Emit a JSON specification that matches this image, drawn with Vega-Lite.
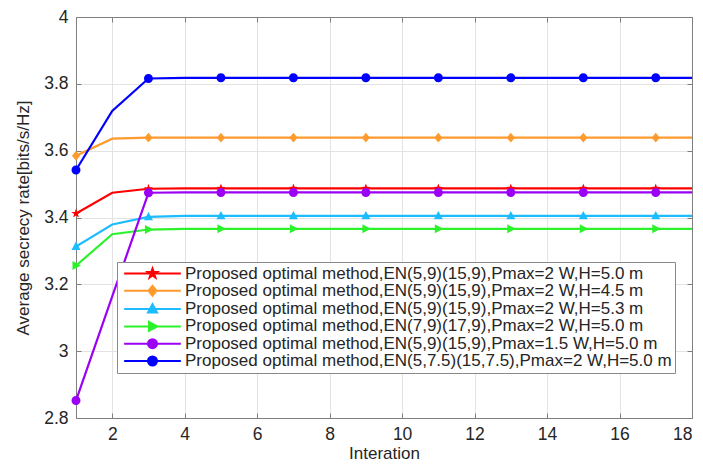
{
  "$schema": "https://vega.github.io/schema/vega-lite/v6.json",
  "width": 616,
  "height": 401,
  "autosize": "none",
  "padding": {"left": 76, "top": 17, "right": 11, "bottom": 47},
  "background": "white",
  "config": {
    "font": "Liberation Sans",
    "view": {"stroke": null},
    "axis": {
      "labelFont": "Liberation Sans",
      "titleFont": "Liberation Sans",
      "labelColor": "#262626",
      "titleColor": "#262626",
      "domainColor": "#7f7f7f",
      "tickColor": "#7f7f7f",
      "gridColor": "#e3e3e3",
      "labelFontSize": 17.5,
      "titleFontSize": 17.5,
      "titleFontWeight": "normal"
    }
  },
  "data": {"values": [
    {"s":"Proposed optimal method,EN(5,9)(15,9),Pmax=2 W,H=5.0 m","x":1,"y":3.412},
    {"s":"Proposed optimal method,EN(5,9)(15,9),Pmax=2 W,H=5.0 m","x":2,"y":3.474},
    {"s":"Proposed optimal method,EN(5,9)(15,9),Pmax=2 W,H=5.0 m","x":3,"y":3.486},
    {"s":"Proposed optimal method,EN(5,9)(15,9),Pmax=2 W,H=5.0 m","x":4,"y":3.487},
    {"s":"Proposed optimal method,EN(5,9)(15,9),Pmax=2 W,H=5.0 m","x":5,"y":3.487},
    {"s":"Proposed optimal method,EN(5,9)(15,9),Pmax=2 W,H=5.0 m","x":6,"y":3.487},
    {"s":"Proposed optimal method,EN(5,9)(15,9),Pmax=2 W,H=5.0 m","x":7,"y":3.487},
    {"s":"Proposed optimal method,EN(5,9)(15,9),Pmax=2 W,H=5.0 m","x":8,"y":3.487},
    {"s":"Proposed optimal method,EN(5,9)(15,9),Pmax=2 W,H=5.0 m","x":9,"y":3.487},
    {"s":"Proposed optimal method,EN(5,9)(15,9),Pmax=2 W,H=5.0 m","x":10,"y":3.487},
    {"s":"Proposed optimal method,EN(5,9)(15,9),Pmax=2 W,H=5.0 m","x":11,"y":3.487},
    {"s":"Proposed optimal method,EN(5,9)(15,9),Pmax=2 W,H=5.0 m","x":12,"y":3.487},
    {"s":"Proposed optimal method,EN(5,9)(15,9),Pmax=2 W,H=5.0 m","x":13,"y":3.487},
    {"s":"Proposed optimal method,EN(5,9)(15,9),Pmax=2 W,H=5.0 m","x":14,"y":3.487},
    {"s":"Proposed optimal method,EN(5,9)(15,9),Pmax=2 W,H=5.0 m","x":15,"y":3.487},
    {"s":"Proposed optimal method,EN(5,9)(15,9),Pmax=2 W,H=5.0 m","x":16,"y":3.487},
    {"s":"Proposed optimal method,EN(5,9)(15,9),Pmax=2 W,H=5.0 m","x":17,"y":3.487},
    {"s":"Proposed optimal method,EN(5,9)(15,9),Pmax=2 W,H=5.0 m","x":18,"y":3.487},
    {"s":"Proposed optimal method,EN(5,9)(15,9),Pmax=2 W,H=4.5 m","x":1,"y":3.585},
    {"s":"Proposed optimal method,EN(5,9)(15,9),Pmax=2 W,H=4.5 m","x":2,"y":3.636},
    {"s":"Proposed optimal method,EN(5,9)(15,9),Pmax=2 W,H=4.5 m","x":3,"y":3.639},
    {"s":"Proposed optimal method,EN(5,9)(15,9),Pmax=2 W,H=4.5 m","x":4,"y":3.639},
    {"s":"Proposed optimal method,EN(5,9)(15,9),Pmax=2 W,H=4.5 m","x":5,"y":3.639},
    {"s":"Proposed optimal method,EN(5,9)(15,9),Pmax=2 W,H=4.5 m","x":6,"y":3.639},
    {"s":"Proposed optimal method,EN(5,9)(15,9),Pmax=2 W,H=4.5 m","x":7,"y":3.639},
    {"s":"Proposed optimal method,EN(5,9)(15,9),Pmax=2 W,H=4.5 m","x":8,"y":3.639},
    {"s":"Proposed optimal method,EN(5,9)(15,9),Pmax=2 W,H=4.5 m","x":9,"y":3.639},
    {"s":"Proposed optimal method,EN(5,9)(15,9),Pmax=2 W,H=4.5 m","x":10,"y":3.639},
    {"s":"Proposed optimal method,EN(5,9)(15,9),Pmax=2 W,H=4.5 m","x":11,"y":3.639},
    {"s":"Proposed optimal method,EN(5,9)(15,9),Pmax=2 W,H=4.5 m","x":12,"y":3.639},
    {"s":"Proposed optimal method,EN(5,9)(15,9),Pmax=2 W,H=4.5 m","x":13,"y":3.639},
    {"s":"Proposed optimal method,EN(5,9)(15,9),Pmax=2 W,H=4.5 m","x":14,"y":3.639},
    {"s":"Proposed optimal method,EN(5,9)(15,9),Pmax=2 W,H=4.5 m","x":15,"y":3.639},
    {"s":"Proposed optimal method,EN(5,9)(15,9),Pmax=2 W,H=4.5 m","x":16,"y":3.639},
    {"s":"Proposed optimal method,EN(5,9)(15,9),Pmax=2 W,H=4.5 m","x":17,"y":3.639},
    {"s":"Proposed optimal method,EN(5,9)(15,9),Pmax=2 W,H=4.5 m","x":18,"y":3.639},
    {"s":"Proposed optimal method,EN(5,9)(15,9),Pmax=2 W,H=5.3 m","x":1,"y":3.313},
    {"s":"Proposed optimal method,EN(5,9)(15,9),Pmax=2 W,H=5.3 m","x":2,"y":3.379},
    {"s":"Proposed optimal method,EN(5,9)(15,9),Pmax=2 W,H=5.3 m","x":3,"y":3.402},
    {"s":"Proposed optimal method,EN(5,9)(15,9),Pmax=2 W,H=5.3 m","x":4,"y":3.405},
    {"s":"Proposed optimal method,EN(5,9)(15,9),Pmax=2 W,H=5.3 m","x":5,"y":3.405},
    {"s":"Proposed optimal method,EN(5,9)(15,9),Pmax=2 W,H=5.3 m","x":6,"y":3.405},
    {"s":"Proposed optimal method,EN(5,9)(15,9),Pmax=2 W,H=5.3 m","x":7,"y":3.405},
    {"s":"Proposed optimal method,EN(5,9)(15,9),Pmax=2 W,H=5.3 m","x":8,"y":3.405},
    {"s":"Proposed optimal method,EN(5,9)(15,9),Pmax=2 W,H=5.3 m","x":9,"y":3.405},
    {"s":"Proposed optimal method,EN(5,9)(15,9),Pmax=2 W,H=5.3 m","x":10,"y":3.405},
    {"s":"Proposed optimal method,EN(5,9)(15,9),Pmax=2 W,H=5.3 m","x":11,"y":3.405},
    {"s":"Proposed optimal method,EN(5,9)(15,9),Pmax=2 W,H=5.3 m","x":12,"y":3.405},
    {"s":"Proposed optimal method,EN(5,9)(15,9),Pmax=2 W,H=5.3 m","x":13,"y":3.405},
    {"s":"Proposed optimal method,EN(5,9)(15,9),Pmax=2 W,H=5.3 m","x":14,"y":3.405},
    {"s":"Proposed optimal method,EN(5,9)(15,9),Pmax=2 W,H=5.3 m","x":15,"y":3.405},
    {"s":"Proposed optimal method,EN(5,9)(15,9),Pmax=2 W,H=5.3 m","x":16,"y":3.405},
    {"s":"Proposed optimal method,EN(5,9)(15,9),Pmax=2 W,H=5.3 m","x":17,"y":3.405},
    {"s":"Proposed optimal method,EN(5,9)(15,9),Pmax=2 W,H=5.3 m","x":18,"y":3.405},
    {"s":"Proposed optimal method,EN(7,9)(17,9),Pmax=2 W,H=5.0 m","x":1,"y":3.256},
    {"s":"Proposed optimal method,EN(7,9)(17,9),Pmax=2 W,H=5.0 m","x":2,"y":3.350},
    {"s":"Proposed optimal method,EN(7,9)(17,9),Pmax=2 W,H=5.0 m","x":3,"y":3.364},
    {"s":"Proposed optimal method,EN(7,9)(17,9),Pmax=2 W,H=5.0 m","x":4,"y":3.366},
    {"s":"Proposed optimal method,EN(7,9)(17,9),Pmax=2 W,H=5.0 m","x":5,"y":3.366},
    {"s":"Proposed optimal method,EN(7,9)(17,9),Pmax=2 W,H=5.0 m","x":6,"y":3.366},
    {"s":"Proposed optimal method,EN(7,9)(17,9),Pmax=2 W,H=5.0 m","x":7,"y":3.366},
    {"s":"Proposed optimal method,EN(7,9)(17,9),Pmax=2 W,H=5.0 m","x":8,"y":3.366},
    {"s":"Proposed optimal method,EN(7,9)(17,9),Pmax=2 W,H=5.0 m","x":9,"y":3.366},
    {"s":"Proposed optimal method,EN(7,9)(17,9),Pmax=2 W,H=5.0 m","x":10,"y":3.366},
    {"s":"Proposed optimal method,EN(7,9)(17,9),Pmax=2 W,H=5.0 m","x":11,"y":3.366},
    {"s":"Proposed optimal method,EN(7,9)(17,9),Pmax=2 W,H=5.0 m","x":12,"y":3.366},
    {"s":"Proposed optimal method,EN(7,9)(17,9),Pmax=2 W,H=5.0 m","x":13,"y":3.366},
    {"s":"Proposed optimal method,EN(7,9)(17,9),Pmax=2 W,H=5.0 m","x":14,"y":3.366},
    {"s":"Proposed optimal method,EN(7,9)(17,9),Pmax=2 W,H=5.0 m","x":15,"y":3.366},
    {"s":"Proposed optimal method,EN(7,9)(17,9),Pmax=2 W,H=5.0 m","x":16,"y":3.366},
    {"s":"Proposed optimal method,EN(7,9)(17,9),Pmax=2 W,H=5.0 m","x":17,"y":3.366},
    {"s":"Proposed optimal method,EN(7,9)(17,9),Pmax=2 W,H=5.0 m","x":18,"y":3.366},
    {"s":"Proposed optimal method,EN(5,9)(15,9),Pmax=1.5 W,H=5.0 m","x":1,"y":2.852},
    {"s":"Proposed optimal method,EN(5,9)(15,9),Pmax=1.5 W,H=5.0 m","x":2,"y":3.164},
    {"s":"Proposed optimal method,EN(5,9)(15,9),Pmax=1.5 W,H=5.0 m","x":3,"y":3.474},
    {"s":"Proposed optimal method,EN(5,9)(15,9),Pmax=1.5 W,H=5.0 m","x":4,"y":3.475},
    {"s":"Proposed optimal method,EN(5,9)(15,9),Pmax=1.5 W,H=5.0 m","x":5,"y":3.475},
    {"s":"Proposed optimal method,EN(5,9)(15,9),Pmax=1.5 W,H=5.0 m","x":6,"y":3.475},
    {"s":"Proposed optimal method,EN(5,9)(15,9),Pmax=1.5 W,H=5.0 m","x":7,"y":3.475},
    {"s":"Proposed optimal method,EN(5,9)(15,9),Pmax=1.5 W,H=5.0 m","x":8,"y":3.475},
    {"s":"Proposed optimal method,EN(5,9)(15,9),Pmax=1.5 W,H=5.0 m","x":9,"y":3.475},
    {"s":"Proposed optimal method,EN(5,9)(15,9),Pmax=1.5 W,H=5.0 m","x":10,"y":3.475},
    {"s":"Proposed optimal method,EN(5,9)(15,9),Pmax=1.5 W,H=5.0 m","x":11,"y":3.475},
    {"s":"Proposed optimal method,EN(5,9)(15,9),Pmax=1.5 W,H=5.0 m","x":12,"y":3.475},
    {"s":"Proposed optimal method,EN(5,9)(15,9),Pmax=1.5 W,H=5.0 m","x":13,"y":3.475},
    {"s":"Proposed optimal method,EN(5,9)(15,9),Pmax=1.5 W,H=5.0 m","x":14,"y":3.475},
    {"s":"Proposed optimal method,EN(5,9)(15,9),Pmax=1.5 W,H=5.0 m","x":15,"y":3.475},
    {"s":"Proposed optimal method,EN(5,9)(15,9),Pmax=1.5 W,H=5.0 m","x":16,"y":3.475},
    {"s":"Proposed optimal method,EN(5,9)(15,9),Pmax=1.5 W,H=5.0 m","x":17,"y":3.475},
    {"s":"Proposed optimal method,EN(5,9)(15,9),Pmax=1.5 W,H=5.0 m","x":18,"y":3.475},
    {"s":"Proposed optimal method,EN(5,7.5)(15,7.5),Pmax=2 W,H=5.0 m","x":1,"y":3.542},
    {"s":"Proposed optimal method,EN(5,7.5)(15,7.5),Pmax=2 W,H=5.0 m","x":2,"y":3.719},
    {"s":"Proposed optimal method,EN(5,7.5)(15,7.5),Pmax=2 W,H=5.0 m","x":3,"y":3.816},
    {"s":"Proposed optimal method,EN(5,7.5)(15,7.5),Pmax=2 W,H=5.0 m","x":4,"y":3.818},
    {"s":"Proposed optimal method,EN(5,7.5)(15,7.5),Pmax=2 W,H=5.0 m","x":5,"y":3.818},
    {"s":"Proposed optimal method,EN(5,7.5)(15,7.5),Pmax=2 W,H=5.0 m","x":6,"y":3.818},
    {"s":"Proposed optimal method,EN(5,7.5)(15,7.5),Pmax=2 W,H=5.0 m","x":7,"y":3.818},
    {"s":"Proposed optimal method,EN(5,7.5)(15,7.5),Pmax=2 W,H=5.0 m","x":8,"y":3.818},
    {"s":"Proposed optimal method,EN(5,7.5)(15,7.5),Pmax=2 W,H=5.0 m","x":9,"y":3.818},
    {"s":"Proposed optimal method,EN(5,7.5)(15,7.5),Pmax=2 W,H=5.0 m","x":10,"y":3.818},
    {"s":"Proposed optimal method,EN(5,7.5)(15,7.5),Pmax=2 W,H=5.0 m","x":11,"y":3.818},
    {"s":"Proposed optimal method,EN(5,7.5)(15,7.5),Pmax=2 W,H=5.0 m","x":12,"y":3.818},
    {"s":"Proposed optimal method,EN(5,7.5)(15,7.5),Pmax=2 W,H=5.0 m","x":13,"y":3.818},
    {"s":"Proposed optimal method,EN(5,7.5)(15,7.5),Pmax=2 W,H=5.0 m","x":14,"y":3.818},
    {"s":"Proposed optimal method,EN(5,7.5)(15,7.5),Pmax=2 W,H=5.0 m","x":15,"y":3.818},
    {"s":"Proposed optimal method,EN(5,7.5)(15,7.5),Pmax=2 W,H=5.0 m","x":16,"y":3.818},
    {"s":"Proposed optimal method,EN(5,7.5)(15,7.5),Pmax=2 W,H=5.0 m","x":17,"y":3.818},
    {"s":"Proposed optimal method,EN(5,7.5)(15,7.5),Pmax=2 W,H=5.0 m","x":18,"y":3.818}
  ]},
  "resolve": {"axis": {"x": "independent", "y": "independent"}},
  "layer": [
    {
      "mark": {"type": "line", "strokeWidth": 2.2, "clip": true},
      "encoding": {
        "x": {"field": "x", "type": "quantitative",
              "scale": {"domain": [1, 18], "nice": false, "zero": false},
              "axis": {"title": "Interation", "titleFontSize": 17, "values": [2,4,6,8,10,12,14,16,18], "tickSize": -5, "labelPadding": 12, "titlePadding": 3, "grid": true}},
        "y": {"field": "y", "type": "quantitative",
              "scale": {"domain": [2.8, 4], "nice": false, "zero": false},
              "axis": {"title": "Average secrecy rate[bits/s/Hz]", "titleFontSize": 17, "values": [2.8,3,3.2,3.4,3.6,3.8,4], "format": "~g", "tickSize": -5, "labelPadding": 13, "titlePadding": 11, "grid": true}},
        "stroke": {"field": "s", "type": "nominal", "legend": null, "sort": null,
              "scale": {"range": ["#ff0000", "#ff9a2e", "#1cbcff", "#2cf22c", "#9b00f5", "#0000ff"]}}
      }
    },
    {
      "transform": [{"filter": {"field": "x", "oneOf": [1,3,5,7,9,11,13,15,17]}}],
      "mark": {"type": "point", "filled": true, "size": 81, "opacity": 1},
      "encoding": {
        "x": {"field": "x", "type": "quantitative",
              "axis": {"orient": "top", "title": null, "labels": false, "values": [2,4,6,8,10,12,14,16,18], "tickSize": -5, "grid": false}},
        "y": {"field": "y", "type": "quantitative",
              "axis": {"orient": "right", "title": null, "labels": false, "values": [2.8,3,3.2,3.4,3.6,3.8,4], "tickSize": -5, "grid": false}},
        "color": {"field": "s", "type": "nominal",
              "scale": {
                "domain": [
                  "Proposed optimal method,EN(5,9)(15,9),Pmax=2 W,H=5.0 m",
                  "Proposed optimal method,EN(5,9)(15,9),Pmax=2 W,H=4.5 m",
                  "Proposed optimal method,EN(5,9)(15,9),Pmax=2 W,H=5.3 m",
                  "Proposed optimal method,EN(7,9)(17,9),Pmax=2 W,H=5.0 m",
                  "Proposed optimal method,EN(5,9)(15,9),Pmax=1.5 W,H=5.0 m",
                  "Proposed optimal method,EN(5,7.5)(15,7.5),Pmax=2 W,H=5.0 m"],
                "range": ["#ff0000", "#ff9a2e", "#1cbcff", "#2cf22c", "#9b00f5", "#0000ff"]},
              "legend": {
                "title": null, "orient": "none", "legendX": 41, "legendY": 245,
                "direction": "vertical",
                "strokeColor": "#8a8a8a", "fillColor": "white", "padding": 3,
                "labelFontSize": 17, "labelColor": "#262626",
                "symbolSize": 81, "symbolOffset": 24, "labelOffset": 24, "rowPadding": -0.7,
                "labelLimit": 600,
                "symbolStrokeColor": {"expr": "scale('color', datum.value)"},
                "symbolStrokeWidth": 2
              }},
        "shape": {"field": "s", "type": "nominal",
              "scale": {
                "domain": [
                  "Proposed optimal method,EN(5,9)(15,9),Pmax=2 W,H=5.0 m",
                  "Proposed optimal method,EN(5,9)(15,9),Pmax=2 W,H=4.5 m",
                  "Proposed optimal method,EN(5,9)(15,9),Pmax=2 W,H=5.3 m",
                  "Proposed optimal method,EN(7,9)(17,9),Pmax=2 W,H=5.0 m",
                  "Proposed optimal method,EN(5,9)(15,9),Pmax=1.5 W,H=5.0 m",
                  "Proposed optimal method,EN(5,7.5)(15,7.5),Pmax=2 W,H=5.0 m"],
                "range": [
                  "M-6.3,0H6.3M0,-1.1L0.259,-0.356L1.046,-0.34L0.419,0.136L0.647,0.89L0,0.44L-0.647,0.89L-0.419,0.136L-1.046,-0.34L-0.259,-0.356Z",
                  "M-6.3,0H6.3M0,-1.1L0.9,0L0,1.1L-0.9,0Z",
                  "M-6.3,0H6.3M0,-1.1L1,0.78L-1,0.78Z",
                  "M-6.3,0H6.3M1.1,0L-0.78,1L-0.78,-1Z",
                  "M-6.3,0H6.3M1,0A1,1 0 1,1 -1,0A1,1 0 1,1 1,0Z",
                  "M-6.3,0H6.3M1,0A1,1 0 1,1 -1,0A1,1 0 1,1 1,0Z"]}}
      }
    }
  ]
}
